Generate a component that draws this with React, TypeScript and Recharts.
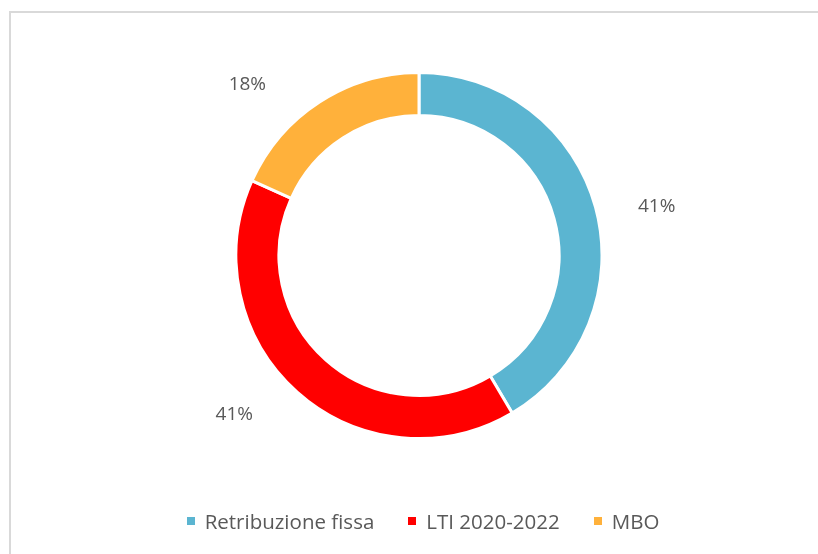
import { Legend, Pie, PieChart, Cell } from "recharts";

const categories = ["Retribuzione fissa", "LTI 2020-2022", "MBO"];
const shares = [41.5, 40.2, 18.3];
const shareLabels = ["41%", "41%", "18%"];
const colors = ["#5bb5d1", "#ff0000", "#ffb13b"];

const data = categories.map((name, i) => ({ name, value: shares[i], label: shareLabels[i] }));

// Excel nudges the data labels away from the exact mid angle (degrees, clockwise)
const labelShift = [3.3, 7.7, -12];

const RAD = Math.PI / 180;
const FONT = "'Open Sans', 'Liberation Sans', sans-serif";

const renderLabel = (props: any) => {
  const { cx, cy, midAngle, outerRadius, index } = props;
  const r = outerRadius + 60;
  const a = midAngle - labelShift[index];
  const x = cx + r * Math.cos(-a * RAD);
  const y = cy + r * Math.sin(-a * RAD);
  return (
    <text x={x} y={y} fill="#595959" fontSize={19} fontFamily={FONT} textAnchor="middle" dominantBaseline="central">
      {data[index].label}
    </text>
  );
};

const renderLegend = () => (
  <div
    style={{
      display: "flex",
      justifyContent: "center",
      paddingLeft: 20,
      fontFamily: FONT,
      fontSize: 20.5,
      color: "#595959",
    }}
  >
    {data.map((d, i) => (
      <div key={d.name} style={{ display: "flex", alignItems: "center", marginRight: i < data.length - 1 ? 34 : 0 }}>
        <span style={{ display: "inline-block", width: 8, height: 8, background: colors[i], marginRight: 10 }} />
        <span>{d.name}</span>
      </div>
    ))}
  </div>
);

export default function App() {
  return (
    <div style={{ position: "relative", width: 810, height: 530 }}>
      {/* chart area frame, runs off the right and bottom edges */}
      <div
        style={{
          position: "fixed",
          left: 9,
          top: 11,
          right: -20,
          bottom: -20,
          borderLeft: "2px solid #d9d9d9",
          borderTop: "2px solid #d9d9d9",
        }}
      />
      <PieChart
        width={810}
        height={530}
        margin={{ top: 0, right: 0, bottom: 0, left: 0 }}
        style={{ position: "absolute", left: 0, top: 0 }}
      >
        <Pie
          data={data}
          dataKey="value"
          nameKey="name"
          cx={411}
          cy={247.5}
          innerRadius={140}
          outerRadius={183}
          startAngle={90}
          endAngle={-270}
          stroke="#ffffff"
          strokeWidth={3}
          label={renderLabel}
          labelLine={false}
          isAnimationActive={false}
        >
          {data.map((d, i) => (
            <Cell key={d.name} fill={colors[i]} />
          ))}
        </Pie>
        <Legend content={renderLegend} verticalAlign="bottom" wrapperStyle={{ top: 499, bottom: "auto", left: 0, width: 810 }} />
      </PieChart>
    </div>
  );
}
